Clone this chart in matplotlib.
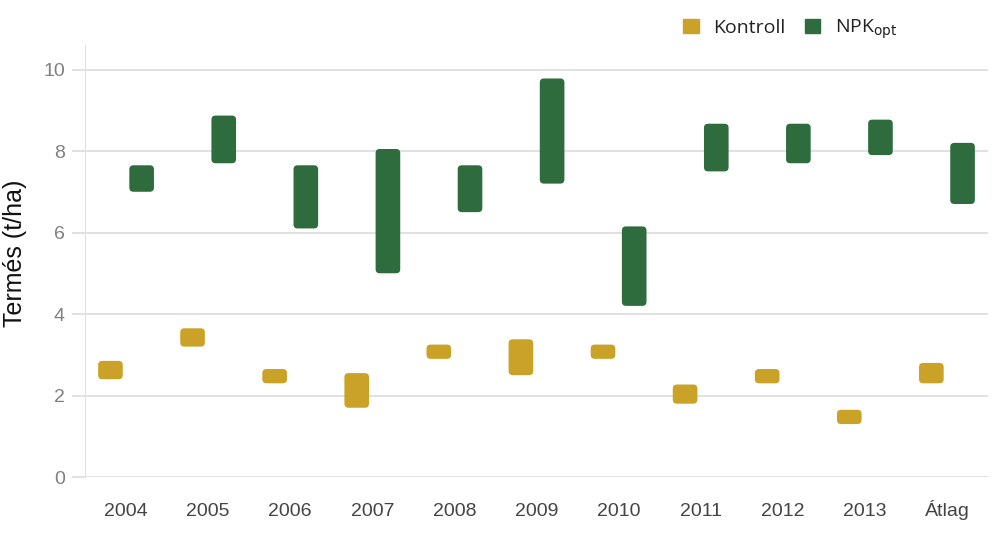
import numpy as np
import matplotlib
matplotlib.use("Agg")
import matplotlib.pyplot as plt
from matplotlib.patches import Patch, FancyBboxPatch

# data: floating bars (low, high) in t/ha
years = ["2004", "2005", "2006", "2007", "2008", "2009", "2010", "2011", "2012", "2013", "Átlag"]
kontroll_low = [2.4, 3.2, 2.3, 1.7, 2.9, 2.5, 2.9, 1.8, 2.3, 1.3, 2.3]
kontroll_high = [2.85, 3.65, 2.65, 2.55, 3.25, 3.38, 3.25, 2.27, 2.65, 1.65, 2.8]
npk_low = [7.0, 7.7, 6.1, 5.0, 6.5, 7.2, 4.2, 7.5, 7.7, 7.9, 6.7]
npk_high = [7.65, 8.87, 7.65, 8.05, 7.65, 9.78, 6.15, 8.67, 8.67, 8.77, 8.2]

gold = "#C9A227"
green = "#2E6B3D"

plt.rcParams["font.family"] = ["Liberation Sans", "DejaVu Sans"]

fig = plt.figure(figsize=(10, 5.43), dpi=100)
ax = fig.add_axes([0.085, 0.1215, 0.903, 0.7955])

x = np.arange(len(years))
k_h = np.array(kontroll_high) - np.array(kontroll_low)
n_h = np.array(npk_high) - np.array(npk_low)
bars_k = ax.bar(x - 0.19, k_h, bottom=kontroll_low, width=0.3, color=gold, zorder=3)
bars_n = ax.bar(x + 0.19, n_h, bottom=npk_low, width=0.3, color=green, zorder=3)

ax.set_xlim(-0.5, len(years) - 0.5)
ax.set_ylim(0, 10.6)

# swap plain rectangles for rounded ones
aspect = (0.7955 * 5.43 / 10.6) / (0.903 * 10 / 11)
for bars in (bars_k, bars_n):
    for r in bars:
        r.set_visible(False)
        fb = FancyBboxPatch((r.get_x(), r.get_y()), r.get_width(), r.get_height(),
                            boxstyle="round,pad=0,rounding_size=0.05",
                            mutation_aspect=1 / aspect,
                            facecolor=r.get_facecolor(), edgecolor="none", zorder=3)
        ax.add_patch(fb)

ax.set_yticks([0, 2, 4, 6, 8, 10])
ax.set_xticks(x)
ax.set_xticklabels(years)
ax.grid(axis="y", color="#dcdcdc", linewidth=1.2, zorder=0)
ax.tick_params(axis="x", length=0, labelsize=14, colors="#444444", pad=28)
ax.tick_params(axis="y", length=9.4, width=1.2, color="#dcdcdc", labelsize=14,
               labelcolor="#808080", pad=5)
for lbl in ax.get_xticklabels():
    lbl.set_verticalalignment("baseline")
for s in ["top", "right", "bottom"]:
    ax.spines[s].set_visible(False)
ax.spines["left"].set_color("#e3e3e3")
ax.set_ylabel("Termés (t/ha)", fontsize=18, color="#111111")
ax.yaxis.set_label_coords(-0.064, 0.517)

handles = [Patch(facecolor=gold, edgecolor=gold, label="Kontroll"),
           Patch(facecolor=green, edgecolor=green, label="NPK$_{\\mathrm{opt}}$")]
leg = fig.legend(handles=handles, loc="upper right", bbox_to_anchor=(0.915, 1.0), ncol=2,
                 frameon=False, prop={"family": "Open Sans", "size": 14},
                 handlelength=0.8, handleheight=0.8, handletextpad=0.75, columnspacing=1.0)
for t in leg.get_texts():
    t.set_color("#222222")

fig.savefig("out.png", dpi=100)
